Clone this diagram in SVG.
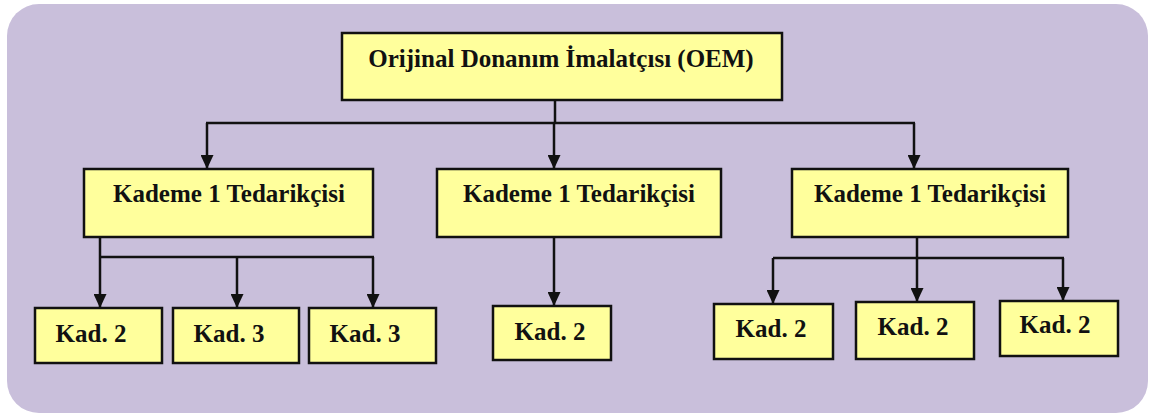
<svg xmlns="http://www.w3.org/2000/svg" width="1152" height="416" viewBox="0 0 1152 416">
  <style>
    .panel { fill: #c9bfdb; }
    .box { fill: #ffff9c; stroke: #111; stroke-width: 2.5; }
    .lbl { font-family: Liberation Serif, serif; font-weight: bold; font-size: 25px; fill: #111; text-anchor: middle; }
    .wire { fill: none; stroke: #111; stroke-width: 2.5; }
    .arrow { fill: none; stroke: #111; stroke-width: 2.5; marker-end: url(#head); }
  </style>
  <defs>
    <marker id="head" markerUnits="userSpaceOnUse" markerWidth="14" markerHeight="13" refX="14" refY="6.5" orient="auto">
      <path d="M0,0 L14,6.5 L0,13 z" fill="#111"/>
    </marker>
  </defs>

  <!-- background panel -->
  <rect class="panel" x="7" y="4" width="1141" height="409" rx="32" ry="32"/>

  <!-- connectors -->
  <g id="connectors">
    <!-- OEM to tier 1 -->
    <line class="wire" x1="555" y1="100" x2="555" y2="123"/>
    <line class="wire" x1="206" y1="123" x2="915" y2="123"/>
    <line class="arrow" x1="207" y1="123" x2="207" y2="169"/>
    <line class="arrow" x1="554" y1="123" x2="554" y2="169"/>
    <line class="arrow" x1="914" y1="123" x2="914" y2="169"/>
    <!-- left tier 1 to sub-tiers -->
    <line class="wire" x1="100" y1="237" x2="100" y2="257"/>
    <line class="wire" x1="100" y1="257" x2="374" y2="257"/>
    <line class="arrow" x1="100" y1="257" x2="100" y2="308"/>
    <line class="arrow" x1="237" y1="257" x2="237" y2="308"/>
    <line class="arrow" x1="373" y1="257" x2="373" y2="308"/>
    <!-- middle tier 1 to sub-tier -->
    <line class="arrow" x1="554" y1="237" x2="554" y2="306"/>
    <!-- right tier 1 to sub-tiers -->
    <line class="wire" x1="917" y1="237" x2="917" y2="258"/>
    <line class="wire" x1="773" y1="258" x2="1064" y2="258"/>
    <line class="arrow" x1="773" y1="258" x2="773" y2="304"/>
    <line class="arrow" x1="917" y1="258" x2="917" y2="302"/>
    <line class="arrow" x1="1063" y1="258" x2="1063" y2="301"/>
  </g>

  <g id="oem">
    <rect class="box" x="342" y="33" width="440" height="67"/>
    <text class="lbl" x="561" y="67">Orijinal Donanım İmalatçısı (OEM)</text>
  </g>

  <g id="tier1-left">
    <rect class="box" x="84" y="169" width="289" height="68"/>
    <text class="lbl" x="229" y="202">Kademe 1 Tedarikçisi</text>
  </g>
  <g id="tier1-middle">
    <rect class="box" x="437" y="169" width="284" height="68"/>
    <text class="lbl" x="579" y="202">Kademe 1 Tedarikçisi</text>
  </g>
  <g id="tier1-right">
    <rect class="box" x="792" y="169" width="276" height="68"/>
    <text class="lbl" x="930" y="202">Kademe 1 Tedarikçisi</text>
  </g>

  <g id="tier2-left-a">
    <rect class="box" x="35" y="308" width="127" height="55"/>
    <text class="lbl" x="91" y="342">Kad. 2</text>
  </g>
  <g id="tier3-left-b">
    <rect class="box" x="173" y="308" width="126" height="55"/>
    <text class="lbl" x="229" y="342">Kad. 3</text>
  </g>
  <g id="tier3-left-c">
    <rect class="box" x="309" y="308" width="127" height="55"/>
    <text class="lbl" x="365" y="342">Kad. 3</text>
  </g>

  <g id="tier2-middle">
    <rect class="box" x="493" y="306" width="118" height="54"/>
    <text class="lbl" x="550" y="340">Kad. 2</text>
  </g>

  <g id="tier2-right-a">
    <rect class="box" x="714" y="304" width="119" height="55"/>
    <text class="lbl" x="771" y="337">Kad. 2</text>
  </g>
  <g id="tier2-right-b">
    <rect class="box" x="856" y="302" width="118" height="57"/>
    <text class="lbl" x="913" y="335">Kad. 2</text>
  </g>
  <g id="tier2-right-c">
    <rect class="box" x="1000" y="301" width="118" height="55"/>
    <text class="lbl" x="1055" y="333">Kad. 2</text>
  </g>
</svg>
